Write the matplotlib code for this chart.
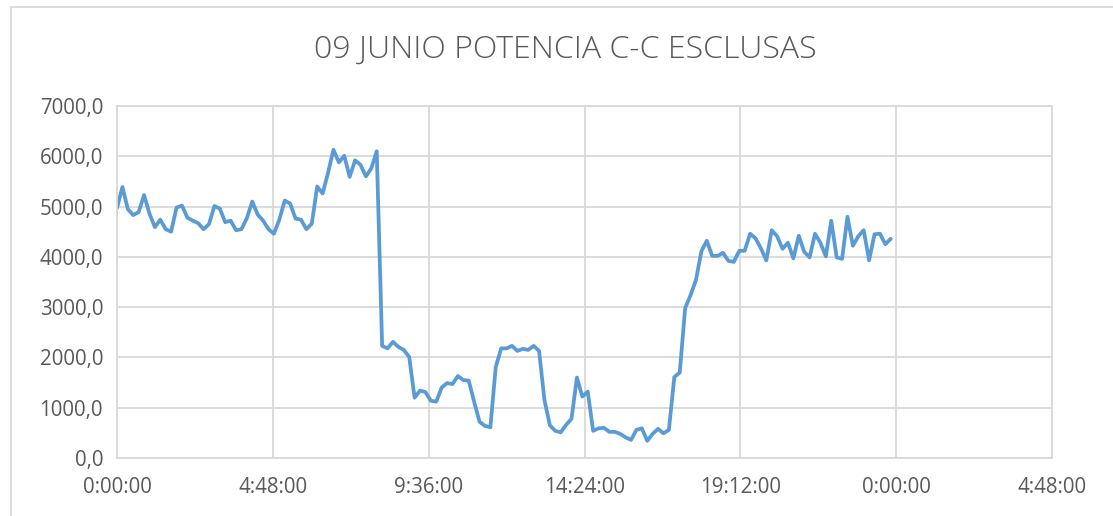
import numpy as np
import matplotlib.pyplot as plt
from matplotlib.patches import Rectangle
from matplotlib.ticker import FuncFormatter, MultipleLocator

# Potencia registrada cada 10 minutos (kW), 09 de junio
paso_min = 10
potencia = [
    4970, 5390, 4950, 4830, 4890, 5230, 4860, 4590, 4740, 4550,
    4500, 4980, 5020, 4780, 4720, 4670, 4550, 4650, 5010, 4960,
    4690, 4720, 4530, 4550, 4770, 5100, 4840, 4720, 4550, 4460,
    4740, 5120, 5060, 4760, 4740, 4550, 4660, 5400, 5260, 5670,
    6130, 5880, 6010, 5590, 5920, 5830, 5600, 5760, 6100, 2230,
    2180, 2310, 2210, 2150, 2010, 1200, 1340, 1310, 1140, 1120,
    1400, 1490, 1470, 1630, 1550, 1540, 1120, 720, 640, 610,
    1810, 2180, 2180, 2230, 2130, 2170, 2150, 2230, 2130, 1150,
    650, 540, 510, 660, 780, 1600, 1220, 1320, 540, 590,
    600, 520, 520, 480, 410, 360, 560, 590, 340, 480,
    580, 490, 560, 1610, 1700, 2980, 3240, 3540, 4110, 4320,
    4020, 4020, 4080, 3920, 3900, 4120, 4120, 4460, 4370, 4170,
    3930, 4530, 4410, 4160, 4280, 3970, 4420, 4100, 3990, 4460,
    4280, 4010, 4720, 3990, 3960, 4800, 4220, 4410, 4530, 3930,
    4450, 4460, 4250, 4360,
]
titulo = "09 JUNIO POTENCIA C-C ESCLUSAS"

# eje x en fracción de día (formato hora de Excel)
dias = np.arange(len(potencia)) * paso_min / 1440.0

gris_texto = "#595959"
gris_rejilla = "#d9d9d9"
azul = "#5b9bd5"

plt.rcParams["font.family"] = ["Open Sans", "DejaVu Sans"]

fig = plt.figure(figsize=(11.13, 5.16), dpi=100)
ax = fig.add_axes([117 / 1113, 1 - 458 / 516, (1052 - 117) / 1113, (458 - 106) / 516])

ax.plot(dias, potencia, color=azul, lw=2.7, solid_joinstyle="round", solid_capstyle="round")

ax.set_xlim(0, 1.2)
ax.set_ylim(0, 7000)
ax.xaxis.set_major_locator(MultipleLocator(0.2))
ax.yaxis.set_major_locator(MultipleLocator(1000))


def hora(x, pos):
    seg = int(round(x * 86400)) % 86400
    return f"{seg // 3600}:{(seg % 3600) // 60:02d}:{seg % 60:02d}"


ax.xaxis.set_major_formatter(FuncFormatter(hora))
ax.yaxis.set_major_formatter(FuncFormatter(lambda v, p: f"{v:.1f}".replace(".", ",")))

ax.grid(True, color=gris_rejilla, lw=1.3)
ax.set_axisbelow(True)
for s in ax.spines.values():
    s.set_color(gris_rejilla)
    s.set_linewidth(1.3)
ax.tick_params(length=0, labelsize=14.8, labelcolor=gris_texto)
ax.tick_params(axis="y", pad=10)
ax.tick_params(axis="x", pad=14)

fig.text(565 / 1113, 1 - 50 / 516, titulo, ha="center", va="center",
         fontsize=23, color=gris_texto, fontweight="light")

# borde del área del gráfico
fig.patches.append(Rectangle((11 / 1113, -0.2), 1.2, 1.2 - 7 / 516,
                             transform=fig.transFigure, fill=False,
                             edgecolor=gris_rejilla, lw=1.3))

fig.savefig("out.png", dpi=100)
